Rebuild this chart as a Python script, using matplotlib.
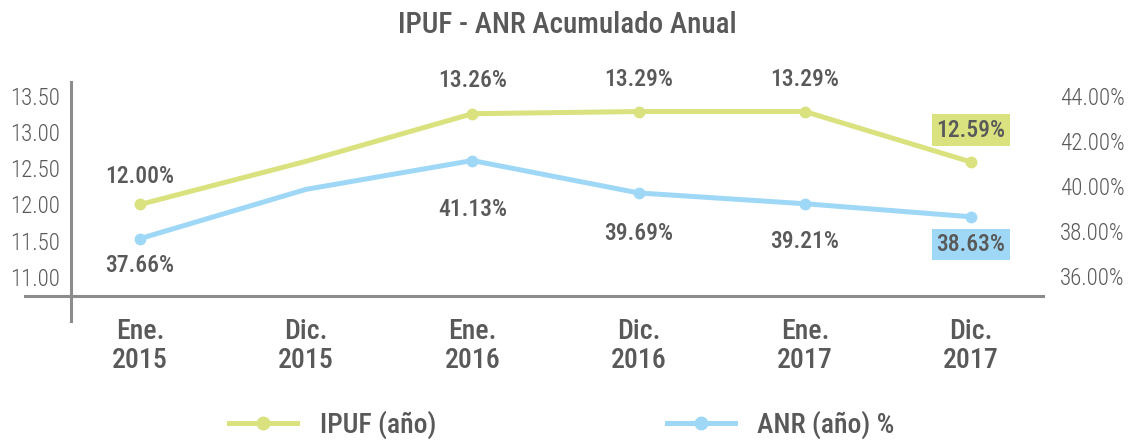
import numpy as np
import matplotlib
matplotlib.use("Agg")
import matplotlib.pyplot as plt
from matplotlib import font_manager
from matplotlib.lines import Line2D

# ---------------- data ----------------
categories = ["Ene.\n2015", "Dic.\n2015", "Ene.\n2016", "Dic.\n2016", "Ene.\n2017", "Dic.\n2017"]
ipuf = [12.00, 12.60, 13.26, 13.29, 13.29, 12.59]
anr = [37.66, 39.85, 41.13, 39.69, 39.21, 38.63]
show_label = [True, False, True, True, True, True]
left_ticks = [11.00, 11.50, 12.00, 12.50, 13.00, 13.50]
right_ticks = [36.0, 38.0, 40.0, 42.0, 44.0]
title = "IPUF - ANR Acumulado Anual"
series_names = ["IPUF (año)", "ANR (año) %"]

# ---------------- style ----------------
names = {f.name for f in font_manager.fontManager.ttflist}
if "Roboto Condensed" in names:
    FAM = "Roboto Condensed"
elif "Liberation Sans Narrow" in names:
    FAM = "Liberation Sans Narrow"
else:
    FAM = "Roboto"
plt.rcParams["font.family"] = [FAM, "DejaVu Sans"]

C_IPUF = "#D9E27E"
C_ANR = "#9FD8F6"
C_TEXT = "#595959"
C_AXIS = "#8C8C8C"
WT = "medium"

W, H = 1135, 440
fig = plt.figure(figsize=(W / 100, H / 100), dpi=100)
ax = fig.add_axes([71 / W, 1 - 296 / H, (1043 - 71) / W, (296 - 82) / H])
ax2 = ax.twinx()

x = np.arange(len(categories))
mx = [xi for xi, s in zip(x, show_label) if s]

# IPUF on left axis
ax.plot(x, ipuf, color=C_IPUF, lw=3.6, solid_joinstyle="round",
        solid_capstyle="round", zorder=3)
ax.plot(mx, [v for v, s in zip(ipuf, show_label) if s], "o", color=C_IPUF, ms=7.5, zorder=4)

# ANR on right axis
ax2.plot(x, anr, color=C_ANR, lw=3.6, solid_joinstyle="round",
         solid_capstyle="round", zorder=3)
ax2.plot(mx, [v for v, s in zip(anr, show_label) if s], "o", color=C_ANR, ms=7.5, zorder=4)

# scales
ax.set_xlim(-0.415, 5.433)
ax.set_ylim(10.73, 13.70)
ax2.set_ylim(35.11, 44.62)

ax.set_yticks(left_ticks)
ax.set_yticklabels([f"{v:.2f}" for v in left_ticks])
ax2.set_yticks(right_ticks)
ax2.set_yticklabels([f"{v:.2f}%" for v in right_ticks])
ax.set_xticks(x)
ax.set_xticklabels(categories, fontsize=20, fontweight=WT, color=C_TEXT, linespacing=1.1)

ax.tick_params(axis="y", length=0, pad=8, labelsize=16.5, labelcolor=C_TEXT)
ax2.tick_params(axis="y", length=0, pad=12, labelsize=16.5, labelcolor=C_TEXT)
ax.tick_params(axis="x", length=0, pad=16)
for lab in ax.get_yticklabels() + ax2.get_yticklabels():
    lab.set_fontweight("light")

for a in (ax, ax2):
    for s in a.spines.values():
        s.set_visible(False)
    a.patch.set_visible(False)

# axis lines (cross-style as in reference)
fig.add_artist(Line2D([25 / W, 1043 / W], [1 - 296 / H] * 2, color=C_AXIS, lw=2.2))
fig.add_artist(Line2D([71 / W] * 2, [1 - 82 / H, 1 - 321 / H], color=C_AXIS, lw=2.2))

# data labels
ipuf_off = [20, 0, 24, 23, 23, 23]      # points above marker
anr_off = [-19, 0, -35, -29, -27, -20]  # points below marker
n = len(categories)
for i in range(n):
    if not show_label[i]:
        continue
    boxed = (i == n - 1)
    ax.annotate(f"{ipuf[i]:.2f}%", (x[i], ipuf[i]), xytext=(0, ipuf_off[i]),
                textcoords="offset points", ha="center", va="center",
                fontsize=17, fontweight=WT, color=C_TEXT, zorder=6,
                bbox=dict(boxstyle="square,pad=0.18", fc=C_IPUF, ec="none") if boxed else None)
    ax2.annotate(f"{anr[i]:.2f}%", (x[i], anr[i]), xytext=(0, anr_off[i]),
                 textcoords="offset points", ha="center", va="center",
                 fontsize=17, fontweight=WT, color=C_TEXT, zorder=6,
                 bbox=dict(boxstyle="square,pad=0.18", fc=C_ANR, ec="none") if boxed else None)

# title
fig.text(0.5, 1 - 25 / H, title, ha="center", va="center", fontsize=21,
         fontweight=WT, color=C_TEXT)

# legend
handles = [Line2D([], [], color=C_IPUF, lw=3.6, marker="o", ms=9),
           Line2D([], [], color=C_ANR, lw=3.6, marker="o", ms=9)]
leg = fig.legend(handles, series_names, loc="center", bbox_to_anchor=(0.495, 1 - 425 / H),
                 ncol=2, frameon=False, handlelength=2.45, handletextpad=0.8,
                 columnspacing=8.3, prop=dict(size=20, weight=WT))
for t in leg.get_texts():
    t.set_color(C_TEXT)

fig.savefig("out.png", dpi=100)
